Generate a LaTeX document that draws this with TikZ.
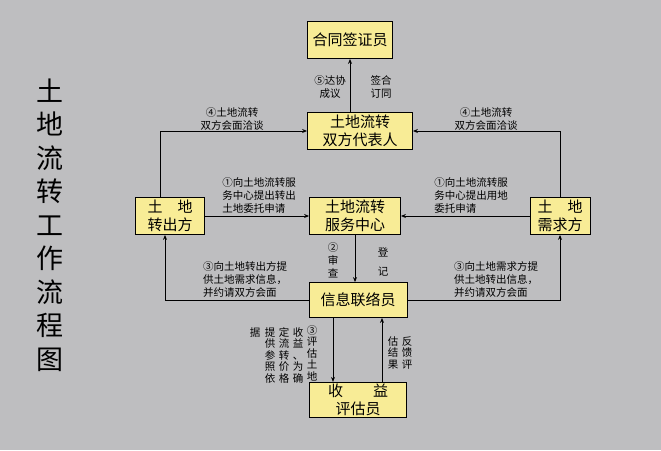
\documentclass[tikz,border=0pt]{standalone}
\usepackage{fontspec}
\setmainfont{Noto Sans CJK SC}
\usetikzlibrary{arrows.meta}
\definecolor{bggray}{HTML}{BEBEC0}
\definecolor{boxyellow}{HTML}{F8EC96}
\begin{document}
\begin{tikzpicture}[x=1pt,y=-1pt,
    role/.style={draw=black,thick,fill=boxyellow,minimum height=37pt,align=center,
                 font=\fontsize{15}{17.5}\selectfont,inner sep=2pt},
    note/.style={align=center,font=\fontsize{10.5}{13}\selectfont},
    vnote/.style={align=center,font=\fontsize{10.5}{11.5}\selectfont,anchor=north},
    flow/.style={thick,-{Stealth[length=5pt,width=4pt]}}]
\fill[bggray] (0,0) rectangle (661,450);
\useasboundingbox (0,0) rectangle (661,450);
% title
\node[align=center,font=\fontsize{27}{33.5}\selectfont] (title) at (50,225)
    {土\\地\\流\\转\\工\\作\\流\\程\\图};
% roles
\node[role,minimum width=85pt] (sign) at (350,40) {合同签证员};
\node[role,minimum width=105pt] (rep) at (360,131) {土地流转\\双方代表人};
\node[role,minimum width=69pt] (out) at (170,216) {土\quad 地\\转出方};
\node[role,minimum width=91pt] (center) at (355,216) {土地流转\\服务中心};
\node[role,minimum width=60pt] (need) at (560,216) {土\quad 地\\需求方};
\node[role,minimum width=98pt,minimum height=35pt] (info) at (358,300) {信息联络员};
\node[role,minimum width=97pt,minimum height=35pt] (eval) at (358,400) {收\qquad 益\\评估员};
% connectors
\draw[flow] (rep.north -| sign) -- (sign);
\draw[flow] (out.north -| 160,0) |- (rep.west);
\draw[flow] (need.north -| 560,0) |- (rep.east);
\draw[flow] (out) -- (center);
\draw[flow] (need) -- (center);
\draw[flow] (center) -- (info.north -| center);
\draw[flow] (info.west) -| (out.south -| 165,0);
\draw[flow] (info.east) -| (need.south -| 560,0);
\draw[flow] (info.south -| 333,0) -- (eval.north -| 333,0);
\draw[flow] (eval.north -| 382,0) -- (info.south -| 382,0);
% labels
\node[note] (l5a) at (330,87) {⑤达协\\成议};
\node[note] (l5b) at (381,87) {签合\\订同};
\node[note] (l4a) at (232,119) {④土地流转\\双方会面洽谈};
\node[note] (l4b) at (486,119) {④土地流转\\双方会面洽谈};
\node[note,align=left] (l1a) at (259,195) {①向土地流转服\\务中心提出转出\\土地委托申请};
\node[note,align=left] (l1b) at (471,195) {①向土地流转服\\务中心提出用地\\委托申请};
\node[note] (l2) at (333,260) {②\\审\\查};
\node[note,font=\fontsize{10.5}{19}\selectfont] (lreg) at (383,262) {登\\记};
\node[note,align=left] (l3a) at (245,280) {③向土地转出方提\\供土地需求信息，\\并约请双方会面};
\node[note,align=left] (l3b) at (496,280) {③向土地需求方提\\供土地转出信息，\\并约请双方会面};
\node[vnote] (v1) at (312,322) {③\\评\\估\\土\\地};
\node[vnote] (v2) at (298,324) {收\\益\\、\\为\\确};
\node[vnote] (v3) at (284,324) {定\\流\\转\\价\\格};
\node[vnote] (v4) at (270,324) {提\\供\\参\\照\\依};
\node[vnote] (v5) at (255,324) {据};
\node[vnote] (v6) at (407,333) {反\\馈\\评};
\node[vnote] (v7) at (393,333) {估\\结\\果};
\end{tikzpicture}
\end{document}
